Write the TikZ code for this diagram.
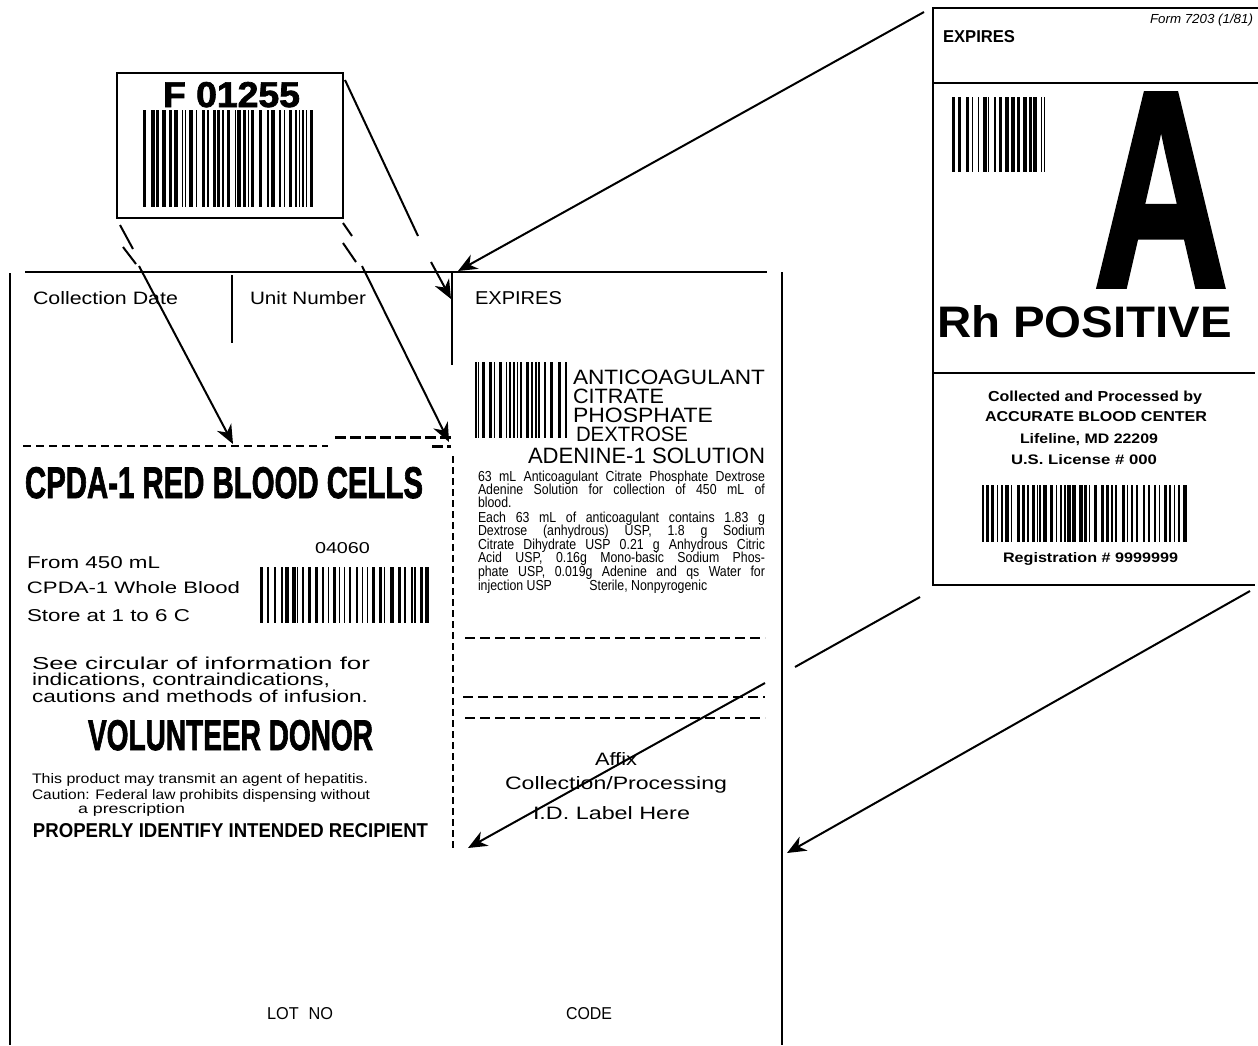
\documentclass[tikz,border=0pt]{standalone}
\usepackage{fontspec}
\setmainfont{Liberation Sans}
\newfontfamily\heavyfont[FakeBold=2]{Liberation Sans Bold}
\usepackage{graphicx}
\usetikzlibrary{arrows.meta}

\tikzset{
  frame/.style={line width=2pt},
  rframe/.style={line width=2.5pt},
  arr/.style={line width=2pt,-{Stealth[length=19pt,width=16pt,inset=6pt]}},
  seg/.style={line width=2pt},
  thindash/.style={line width=1.6pt,dash pattern=on 8pt off 5pt},
  thickdash/.style={line width=3pt,dash pattern=on 11pt off 4pt},
  vdash/.style={line width=2pt,dash pattern=on 7pt off 4pt},
  hdash/.style={line width=2.2pt,dash pattern=on 10pt off 5pt},
  txt/.style={anchor=base west,inner sep=0pt,outer sep=0pt},
}

% name, x, baseline, width, height, text
\newcommand\tx[6]{\node[txt] (#1) at (#2,#3) {\resizebox{#4pt}{#5pt}{#6}};}
% justified, condensed paragraph line
\newcommand\jl[4]{\node[txt] (#1) at (478,#2) {\scalebox{0.85}[1]{\makebox[337.6pt][#3]{\fontsize{14.5}{14.5}\selectfont #4}}};}
% barcode: x0,y0,x1,y1,seed
\newcommand\barcode[5]{%
  \pgfmathsetseed{#5}%
  \xdef\bcx{#1}%
  \foreach \i in {1,...,140}{%
    \pgfmathsetmacro\bcw{1+random(0,3)*0.8}%
    \pgfmathsetmacro\bcg{1.4+random(0,3)*1.1}%
    \pgfmathsetmacro\bce{\bcx+\bcw}%
    \ifdim\bce pt<#3pt
      \fill (\bcx,#2) rectangle (\bce,#4);
    \fi
    \pgfmathsetmacro\bcn{\bce+\bcg}%
    \xdef\bcx{\bcn}%
  }%
}

\begin{document}
\begin{tikzpicture}[x=1pt,y=-1pt]
\fill[white] (0,0) rectangle (1258,1045);
\useasboundingbox (0,0) rectangle (1258,1045);

% ---------------- small unit-number label ----------------
\node[draw,frame,minimum width=226pt,minimum height=145pt,inner sep=0pt] (small) at (230,145.5) {};
\tx{fnum}{163}{107}{137}{25}{\heavyfont F 01255}
\barcode{143}{110}{315}{207}{11}

% ---------------- main bag label ----------------
\coordinate (mlTL) at (10,273);
\coordinate (mlBL) at (10,1045);
\coordinate (mlTopL) at (25,272);
\coordinate (mlTopR) at (767,272);
\coordinate (mlTR) at (782,272);
\coordinate (mlBR) at (782,1045);
\draw[frame] (mlTL) -- (mlBL);
\draw[frame] (mlTopL) -- (mlTopR);
\draw[frame] (mlTR) -- (mlBR);

\coordinate (d1t) at (232,275); \coordinate (d1b) at (232,343);
\coordinate (d2t) at (452,273); \coordinate (d2b) at (452,365);
\draw[line width=2.5pt] (d1t) -- (d1b);
\draw[line width=2.5pt] (d2t) -- (d2b);

\tx{coldate}{33}{304}{145}{13}{Collection Date}
\tx{unitnum}{250}{304}{116}{13}{Unit Number}
\tx{expl}{475}{304}{87}{13}{EXPIRES}

% dashed cut lines
\coordinate (h1a) at (23,446); \coordinate (h1b) at (328,446);
\coordinate (h2a) at (335,437); \coordinate (h2b) at (451,437);
\coordinate (h3a) at (432,446); \coordinate (h3b) at (451,446);
\coordinate (v1a) at (453,456); \coordinate (v1b) at (453,848);
\draw[thindash] (h1a) -- (h1b);
\draw[thickdash] (h2a) -- (h2b);
\draw[thickdash] (h3a) -- (h3b);
\draw[vdash] (v1a) -- (v1b);
\coordinate (r1a) at (465,638); \coordinate (r1b) at (765,638);
\coordinate (r2a) at (463,697); \coordinate (r2b) at (765,697);
\coordinate (r3a) at (465,718); \coordinate (r3b) at (765,718);
\draw[hdash] (r1a) -- (r1b);
\draw[hdash] (r2a) -- (r2b);
\draw[hdash] (r3a) -- (r3b);

% left column
\tx{title}{25}{498}{398}{31}{\heavyfont CPDA-1 RED BLOOD CELLS}
\tx{c04060}{315}{553}{55}{11}{04060}
\barcode{260}{567}{432}{623}{7}
\tx{from}{27}{568}{133}{12}{From 450 mL}
\tx{whole}{27}{593}{213}{12}{CPDA-1 Whole Blood}
\tx{store}{27}{621}{163}{12}{Store at 1 to 6 C}
\tx{see}{32}{669}{338}{12.5}{See circular of information for}
\tx{indic}{32}{685}{298}{12.5}{indications, contraindications,}
\tx{caut}{32}{702}{336}{12.5}{cautions and methods of infusion.}
\tx{vol}{88}{750}{285}{30}{\heavyfont VOLUNTEER DONOR}
\tx{prod}{32}{783}{336}{10}{This product may transmit an agent of hepatitis.}
\tx{cautn}{32}{799}{338}{10}{Caution: Federal law prohibits dispensing without}
\tx{presc}{78}{813}{107}{10}{a prescription}
\tx{prop}{33}{837}{395}{14}{\bfseries PROPERLY IDENTIFY INTENDED RECIPIENT}

% right column
\barcode{475}{362}{568}{438}{5}
\tx{anti}{573}{384}{192}{14.5}{ANTICOAGULANT}
\tx{citr}{573}{403}{91}{14.5}{CITRATE}
\tx{phos}{573}{422}{140}{14.5}{PHOSPHATE}
\tx{dext}{576}{441}{112}{14.5}{DEXTROSE}
\tx{aden}{528}{463}{237}{15.5}{ADENINE-1 SOLUTION}
\jl{p1}{481}{s}{63 mL Anticoagulant Citrate Phosphate Dextrose}
\jl{p2}{494}{s}{Adenine Solution for collection of 450 mL of}
\jl{p3}{507}{l}{blood.}
\jl{p4}{522}{s}{Each 63 mL of anticoagulant contains 1.83 g}
\jl{p5}{535}{s}{Dextrose (anhydrous) USP, 1.8 g Sodium}
\jl{p6}{549}{s}{Citrate Dihydrate USP 0.21 g Anhydrous Citric}
\jl{p7}{562}{s}{Acid USP, 0.16g Mono-basic Sodium Phos-}
\jl{p8}{576}{s}{phate USP, 0.019g Adenine and qs Water for}
\jl{p9}{590}{l}{injection USP\hspace{44pt}Sterile, Nonpyrogenic}
\tx{affix}{595}{765}{42}{13}{Affix}
\tx{collproc}{505}{789}{222}{13}{Collection/Processing}
\tx{idlabel}{533}{819}{157}{13}{I.D. Label Here}
\tx{lotno}{267}{1019}{66}{12}{LOT\hspace{0.6em}NO}
\tx{code}{566}{1019}{46}{12}{CODE}

% ---------------- ABO / Rh label ----------------
\coordinate (rTL) at (933,8);
\coordinate (rBL) at (933,585);
\coordinate (rTR) at (1258,8);
\coordinate (rBR) at (1255,585);
\draw[rframe] (rTR) -- (rTL) -- (rBL) -- (rBR);
\coordinate (rL1a) at (933,83);  \coordinate (rL1b) at (1258,83);
\coordinate (rL2a) at (933,373); \coordinate (rL2b) at (1255,373);
\draw[rframe] (rL1a) -- (rL1b);
\draw[rframe] (rL2a) -- (rL2b);
\tx{rexp}{943}{42}{72}{12}{\bfseries EXPIRES}
\tx{form}{1150}{23}{103}{9.5}{\itshape Form 7203 (1/81)}
\barcode{952}{97}{1047}{172}{3}
\tx{bigA}{1094}{286}{134}{192}{\heavyfont A}
\tx{rh}{937}{337}{295}{32}{\bfseries Rh POSITIVE}
\tx{coll}{988}{401}{214}{10.5}{\bfseries Collected and Processed by}
\tx{acc}{985}{421}{222}{10}{\bfseries ACCURATE BLOOD CENTER}
\tx{life}{1020}{443}{138}{10}{\bfseries Lifeline, MD 22209}
\tx{lic}{1011}{464}{146}{10}{\bfseries U.S. License \# 000}
\barcode{982}{485}{1192}{542}{9}
\tx{reg}{1003}{562}{175}{10}{\bfseries Registration \# 9999999}

% ---------------- connectors ----------------
% small label, bottom left -> collection date line
\coordinate (a1s) at (120,225); \coordinate (a1m) at (133,249);
\coordinate (a1p) at (123,247); \coordinate (a1q) at (136,264);
\coordinate (a1r) at (139,266); \coordinate (a1t) at (233,444);
\draw[seg] (a1s) -- (a1m);
\draw[seg] (a1p) -- (a1q);
\draw[arr] (a1r) -- (a1t);
% small label, bottom right -> unit number line
\coordinate (a2s) at (343,223); \coordinate (a2m) at (352,236);
\coordinate (a2p) at (343,243); \coordinate (a2q) at (356,262);
\coordinate (a2r) at (362,266); \coordinate (a2t) at (449,442);
\draw[seg] (a2s) -- (a2m);
\draw[seg] (a2p) -- (a2q);
\draw[arr] (a2r) -- (a2t);
% small label, top right -> top of expires column
\coordinate (a3s) at (345,80); \coordinate (a3m) at (418,236);
\coordinate (a3r) at (431,262); \coordinate (a3t) at (451,299);
\draw[seg] (a3s) -- (a3m);
\draw[arr] (a3r) -- (a3t);
% ABO label top left -> expires corner
\coordinate (a4s) at (924,12); \coordinate (a4t) at (458,271);
\draw[arr] (a4s) -- (a4t);
% ABO label bottom left -> lower left of right column
\coordinate (a5s) at (920,597); \coordinate (a5m) at (795,667);
\coordinate (a5r) at (765,683); \coordinate (a5t) at (468,848);
\draw[seg] (a5s) -- (a5m);
\draw[arr] (a5r) -- (a5t);
% ABO label bottom right -> lower right corner
\coordinate (a6s) at (1250,591); \coordinate (a6t) at (787,853);
\draw[arr] (a6s) -- (a6t);
\end{tikzpicture}
\end{document}
